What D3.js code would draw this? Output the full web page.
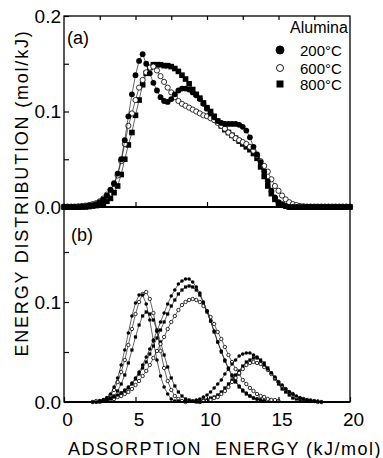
<!DOCTYPE html>
<html>
<head>
<meta charset="utf-8">
<script src="https://cdnjs.cloudflare.com/ajax/libs/d3/7.8.5/d3.min.js"></script>
<style>
  body { margin: 0; background: #fff; }
  svg { font-family: "Liberation Sans", Arial, sans-serif; }
  .axis text { font-size: 19px; fill: #000; }
  .axis line { stroke: #000; stroke-width: 1.2; }
</style>
</head>
<body>
<div id="chart"></div>
<script>
// energy grid spacing of the measured points (kJ/mol)
var energyStep = 0.25;

var tempLabels = ["200\u00b0C", "600\u00b0C", "800\u00b0C"];

// (a) measured distributions, 0 .. 20 kJ/mol
var dist200 = [0, 0, 0, 0, 0, 0.0005, 0.001, 0.0015, 0.002, 0.003, 0.005, 0.008, 0.012, 0.018, 0.025, 0.035,
  0.05, 0.07, 0.095, 0.118, 0.138, 0.153, 0.16, 0.15, 0.14, 0.13, 0.122, 0.115, 0.111, 0.11, 0.113, 0.118,
  0.122, 0.124, 0.124, 0.123, 0.12, 0.117, 0.113, 0.108, 0.103, 0.098, 0.094, 0.09, 0.088, 0.087, 0.087, 0.087,
  0.087, 0.086, 0.084, 0.08, 0.073, 0.063, 0.055, 0.047, 0.037, 0.027, 0.017, 0.01, 0.005, 0.003, 0.001, 0,
  0, 0, 0, 0, 0, 0, 0, 0, 0, 0, 0, 0, 0, 0, 0, 0, 0];
var dist600 = [0.0005, 0.0005, 0.0005, 0.0005, 0.0008, 0.001, 0.0015, 0.002, 0.003, 0.004, 0.006, 0.009, 0.013,
  0.018, 0.024, 0.033, 0.048, 0.066, 0.085, 0.098, 0.112, 0.125, 0.133, 0.141, 0.146, 0.147, 0.143, 0.137, 0.131,
  0.125, 0.12, 0.115, 0.111, 0.108, 0.106, 0.104, 0.102, 0.1, 0.098, 0.096, 0.095, 0.093, 0.091, 0.088, 0.085,
  0.082, 0.078, 0.075, 0.072, 0.07, 0.068, 0.066, 0.063, 0.059, 0.054, 0.048, 0.043, 0.037, 0.029, 0.022, 0.017,
  0.012, 0.008, 0.005, 0.003, 0.002, 0.001, 0.0008, 0.0005, 0.0005, 0.0005, 0.0005, 0.0005, 0.0005, 0.0005,
  0.0005, 0.0005, 0.0005, 0.0005, 0.0005, 0.0005];
var dist800 = [0, 0, 0, 0, 0, 0, 0, 0.0005, 0.001, 0.0015, 0.002, 0.004, 0.006, 0.009, 0.015, 0.022, 0.034,
  0.05, 0.065, 0.078, 0.096, 0.112, 0.128, 0.14, 0.146, 0.149, 0.149, 0.149, 0.148, 0.148, 0.147, 0.145, 0.142,
  0.138, 0.134, 0.129, 0.123, 0.118, 0.114, 0.109, 0.104, 0.1, 0.095, 0.09, 0.085, 0.081, 0.078, 0.075, 0.072,
  0.069, 0.066, 0.063, 0.06, 0.056, 0.051, 0.042, 0.032, 0.022, 0.014, 0.008, 0.004, 0.002, 0.001, 0, 0, 0, 0,
  0, 0, 0, 0, 0, 0, 0, 0, 0, 0, 0, 0, 0, 0];

// (b) fitted components: first energy of each, then values
var low200Start = 2.0;
var low200 = [0, 0, 0.001, 0.002, 0.004, 0.008, 0.015, 0.024, 0.037, 0.052, 0.069, 0.086, 0.099, 0.107, 0.107,
  0.098, 0.082, 0.061, 0.042, 0.026, 0.015, 0.008, 0.003, 0.001, 0.001];
var low600Start = 2.0;
var low600 = [0, 0.001, 0.001, 0.002, 0.004, 0.007, 0.012, 0.020, 0.030, 0.042, 0.057, 0.073, 0.088, 0.100,
  0.108, 0.110, 0.103, 0.089, 0.071, 0.051, 0.034, 0.021, 0.012, 0.006, 0.003, 0.001, 0];
var low800Start = 2.25;
var low800 = [0, 0, 0.001, 0.002, 0.004, 0.006, 0.011, 0.018, 0.027, 0.039, 0.052, 0.065, 0.077, 0.086, 0.090,
  0.088, 0.082, 0.072, 0.060, 0.047, 0.035, 0.024, 0.016, 0.010, 0.006, 0.003, 0.002, 0.001, 0, 0];
var mid200Start = 2.5;
var mid200 = [0.001, 0.002, 0.002, 0.003, 0.005, 0.007, 0.009, 0.012, 0.015, 0.019, 0.024, 0.030, 0.037, 0.045,
  0.053, 0.062, 0.071, 0.080, 0.089, 0.098, 0.106, 0.112, 0.118, 0.121, 0.123, 0.123, 0.120, 0.115, 0.109, 0.100,
  0.091, 0.081, 0.071, 0.060, 0.051, 0.042, 0.034, 0.027, 0.021, 0.016, 0.012, 0.009, 0.006, 0.004, 0.003, 0.002,
  0.001];
var mid600Start = 3.0;
var mid600 = [0.002, 0.002, 0.003, 0.005, 0.006, 0.008, 0.010, 0.013, 0.017, 0.021, 0.026, 0.031, 0.037, 0.044,
  0.051, 0.058, 0.065, 0.073, 0.080, 0.086, 0.092, 0.097, 0.100, 0.102, 0.103, 0.102, 0.100, 0.096, 0.091, 0.085,
  0.078, 0.070, 0.063, 0.055, 0.047, 0.040, 0.033, 0.028, 0.022, 0.018, 0.014, 0.011, 0.008, 0.006, 0.005, 0.003,
  0.002, 0.002, 0.001];
var mid800Start = 3.0;
var mid800 = [0.003, 0.004, 0.005, 0.006, 0.009, 0.011, 0.014, 0.018, 0.023, 0.028, 0.034, 0.040, 0.048, 0.056,
  0.064, 0.072, 0.080, 0.088, 0.096, 0.102, 0.108, 0.112, 0.115, 0.116, 0.115, 0.112, 0.107, 0.099, 0.090, 0.081,
  0.070, 0.060, 0.050, 0.041, 0.033, 0.026, 0.020, 0.015, 0.011, 0.008, 0.006, 0.004, 0.003, 0.002, 0.001];
var high200Start = 8.5;
var high200 = [0.001, 0.001, 0.001, 0.002, 0.003, 0.005, 0.007, 0.010, 0.014, 0.018, 0.022, 0.028, 0.033, 0.038,
  0.042, 0.046, 0.048, 0.049, 0.049, 0.047, 0.045, 0.041, 0.037, 0.033, 0.029, 0.025, 0.020, 0.017, 0.013, 0.010,
  0.008, 0.006, 0.004, 0.003, 0.002, 0.002, 0.001, 0.001, 0];
var high600Start = 9.5;
var high600 = [0, 0.001, 0.001, 0.002, 0.004, 0.005, 0.008, 0.011, 0.015, 0.020, 0.024, 0.029, 0.033, 0.037,
  0.039, 0.040, 0.039, 0.038, 0.035, 0.032, 0.028, 0.024, 0.020, 0.016, 0.013, 0.010, 0.008, 0.005, 0.004, 0.003,
  0.002, 0.001, 0.001, 0, 0];
var high800Start = 9.25;
var high800 = [0.001, 0.001, 0.002, 0.002, 0.004, 0.005, 0.007, 0.010, 0.014, 0.018, 0.022, 0.027, 0.031, 0.036,
  0.040, 0.042, 0.044, 0.044, 0.042, 0.039, 0.034, 0.029, 0.023, 0.018, 0.013, 0.010, 0.007, 0.004, 0.003, 0.002,
  0.001, 0.001];

var svg = d3.select("#chart")
  .append("svg")
  .attr("width", 383)
  .attr("height", 458);

var x = d3.scaleLinear().domain([0, 20]).range([64, 350]);
var yTop = d3.scaleLinear().domain([0, 0.2]).range([207, 16]);
var yBot = d3.scaleLinear().domain([0, 0.1]).range([402, 302]);

function toPoints(start, vals) {
  return vals.map(function (v, i) { return { e: start + i * energyStep, v: v }; });
}

// markers joined by a thin line
function drawSeries(g, y, pts, kind, r) {
  g.append("path")
    .datum(pts)
    .attr("fill", "none")
    .attr("stroke", "#000")
    .attr("stroke-width", 0.6)
    .attr("d", d3.line().x(d => x(d.e)).y(d => y(d.v)));

  if (kind === "square") {
    g.selectAll(null).data(pts).enter().append("rect")
      .attr("x", d => x(d.e) - r)
      .attr("y", d => y(d.v) - r)
      .attr("width", 2 * r)
      .attr("height", 2 * r)
      .attr("fill", "#000");
  } else {
    g.selectAll(null).data(pts).enter().append("circle")
      .attr("cx", d => x(d.e))
      .attr("cy", d => y(d.v))
      .attr("r", r)
      .attr("fill", kind === "open" ? "#fff" : "#000")
      .attr("stroke", "#000")
      .attr("stroke-width", kind === "open" ? 0.8 : 0);
  }
}

// panel (a)
var topGroup = svg.append("g");
drawSeries(topGroup, yTop, toPoints(0, dist800), "square", 2.8);
drawSeries(topGroup, yTop, toPoints(0, dist600), "open", 2.6);
drawSeries(topGroup, yTop, toPoints(0, dist200), "filled", 2.9);

// panel (b)
var botGroup = svg.append("g");
drawSeries(botGroup, yBot, toPoints(low800Start, low800), "square", 1.6);
drawSeries(botGroup, yBot, toPoints(mid800Start, mid800), "square", 1.6);
drawSeries(botGroup, yBot, toPoints(high800Start, high800), "square", 1.6);
drawSeries(botGroup, yBot, toPoints(low600Start, low600), "open", 1.7);
drawSeries(botGroup, yBot, toPoints(mid600Start, mid600), "open", 1.7);
drawSeries(botGroup, yBot, toPoints(high600Start, high600), "open", 1.7);
drawSeries(botGroup, yBot, toPoints(low200Start, low200), "filled", 1.8);
drawSeries(botGroup, yBot, toPoints(mid200Start, mid200), "filled", 1.8);
drawSeries(botGroup, yBot, toPoints(high200Start, high200), "filled", 1.8);

// frame and divider
svg.append("rect")
  .attr("x", x(0)).attr("y", yTop(0.2))
  .attr("width", x(20) - x(0)).attr("height", yBot(0) - yTop(0.2))
  .attr("fill", "none").attr("stroke", "#000").attr("stroke-width", 1.3);
svg.append("line")
  .attr("x1", x(0)).attr("x2", x(20))
  .attr("y1", yTop(0)).attr("y2", yTop(0))
  .attr("stroke", "#000").attr("stroke-width", 1.8);
svg.append("line")
  .attr("x1", x(0)).attr("x2", x(20))
  .attr("y1", yBot(0)).attr("y2", yBot(0))
  .attr("stroke", "#000").attr("stroke-width", 1.8);

function yFmt(d) {
  return (Math.abs(d * 10 - Math.round(d * 10)) < 1e-6) ? d.toFixed(1) : "";
}

// y axes
svg.append("g").attr("class", "axis")
  .attr("transform", `translate(${x(0)},0)`)
  .call(d3.axisLeft(yTop).tickValues([0, 0.05, 0.1, 0.15, 0.2]).tickSizeInner(-5).tickSizeOuter(0)
    .tickPadding(3).tickFormat(yFmt));
svg.append("g").attr("class", "axis")
  .attr("transform", `translate(${x(0)},0)`)
  .call(d3.axisLeft(yBot).tickValues([0, 0.05, 0.1, 0.15]).tickSizeInner(-5).tickSizeOuter(0)
    .tickPadding(3).tickFormat(yFmt));

// x axes
var bottomAxis = svg.append("g").attr("class", "axis")
  .attr("transform", `translate(0,${yBot(0)})`)
  .call(d3.axisBottom(x).tickValues([0, 5, 10, 15, 20]).tickSizeInner(-5).tickSizeOuter(0)
    .tickPadding(11));
bottomAxis.selectAll("text").attr("dx", 3);

svg.append("g").attr("class", "axis")
  .attr("transform", `translate(0,${yTop(0)})`)
  .call(d3.axisBottom(x).tickValues([5, 10, 15]).tickSizeInner(-5).tickSizeOuter(0).tickFormat(""));
svg.append("g").attr("class", "axis")
  .attr("transform", `translate(0,${yTop(0.2)})`)
  .call(d3.axisTop(x).tickValues([2.5, 5, 7.5, 10, 12.5, 15, 17.5]).tickSizeInner(-4).tickSizeOuter(0)
    .tickFormat(""));

svg.selectAll(".axis .domain").remove();

// panel tags
svg.append("text").attr("x", 67).attr("y", 44).attr("font-size", 18).text("(a)");
svg.append("text").attr("x", 71).attr("y", 241).attr("font-size", 18).text("(b)");

// axis titles
svg.append("text")
  .attr("transform", "translate(28,193) rotate(-90)")
  .attr("text-anchor", "middle")
  .attr("font-size", 18)
  .attr("letter-spacing", 1.8)
  .text("ENERGY DISTRIBUTION (mol/kJ)");

svg.append("text")
  .attr("x", 225).attr("y", 455)
  .attr("text-anchor", "middle")
  .attr("font-size", 18)
  .attr("letter-spacing", 1.5)
  .style("white-space", "pre")
  .text("ADSORPTION  ENERGY (kJ/mol)");

// legend
var legend = svg.append("g");
legend.append("text").attr("x", 290).attr("y", 33).attr("font-size", 16).text("Alumina");
var legendY = [50, 68, 84];
var legendKinds = ["filled", "open", "square"];
legendKinds.forEach(function (kind, i) {
  if (kind === "square") {
    legend.append("rect").attr("x", 276.5).attr("y", legendY[i] - 3.5).attr("width", 7).attr("height", 7)
      .attr("fill", "#000");
  } else {
    legend.append("circle").attr("cx", 280).attr("cy", legendY[i]).attr("r", kind === "open" ? 3.5 : 4)
      .attr("fill", kind === "open" ? "#fff" : "#000").attr("stroke", "#000").attr("stroke-width", 0.9);
  }
  legend.append("text").attr("x", 300).attr("y", legendY[i] + 5.5).attr("font-size", 15).text(tempLabels[i]);
});
</script>
</body>
</html>
